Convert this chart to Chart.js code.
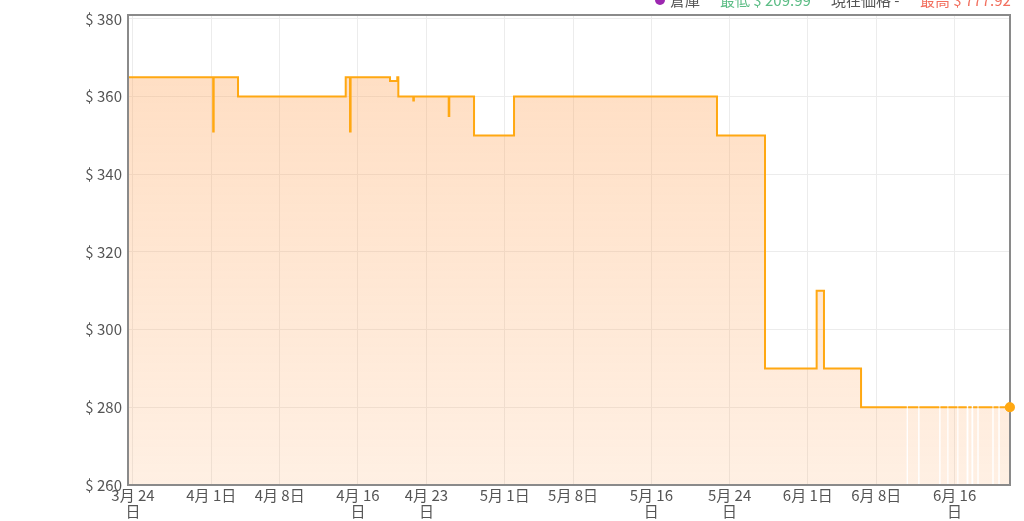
<!DOCTYPE html>
<html>
<head>
<meta charset="utf-8">
<script src="https://cdn.jsdelivr.net/npm/chart.js@4.4.1/dist/chart.umd.min.js"></script>
<style>
html,body{margin:0;padding:0;background:#fff;overflow:hidden}
#wrap{width:1024px;height:521px}
</style>
</head>
<body>
<div id="wrap"><canvas id="priceChart"></canvas></div>
<script>
// 価格の変化点（3月24日 = 0日目）
let changeDays = [-0.51, 8.2, 8.25, 10.74, 21.75, 22.19, 22.25, 26.28, 27.02, 27.13, 28.66, 28.72, 32.28, 32.34, 34.87, 38.96, 59.71, 64.62, 69.9, 70.65, 74.44, 89.67];
let prices     = [365,   351, 365,  360,   365,   351,   365,   364,   365,   360,   359,   360,   355,   360,   350,   360,   350,   290,   310,  290,   280,   280];
// データ欠損（最後の区間）
let gapStarts = [79.12, 80.3, 82.45, 83.28, 84.3, 85.25, 85.75, 86.35, 87.88, 88.5];
let gapEnds   = [79.22, 80.4, 82.55, 83.36, 84.38, 85.4,  85.9,  86.45, 87.98, 88.6];
let gapPrice = 280;
// 軸
let tickDays = [0, 8, 15, 23, 30, 38, 45, 53, 61, 69, 76, 84];
let tickLabels = [["3月 24","日"], "4月 1日", "4月 8日", ["4月 16","日"], ["4月 23","日"], "5月 1日", "5月 8日", ["5月 16","日"], ["5月 24","日"], "6月 1日", "6月 8日", ["6月 16","日"]];
let yTicks = [260, 280, 300, 320, 340, 360, 380];
// 上部の凡例
let headerTexts  = ["倉庫", "最低 $ 209.99", "現在価格 -", "最高 $ 777.92"];
let headerColors = ["#555", "#5dbd86", "#555", "#f26f5e"];

const FONT = "'Noto Sans CJK JP', 'Noto Sans', sans-serif";

// 点データを作る
let points = [];
for(let i=0;i<changeDays.length-1;i++) points.push({x:changeDays[i], y:prices[i]});
for(let i=0;i<gapStarts.length;i++){
  points.push({x:gapStarts[i], y:gapPrice});
  points.push({x:gapStarts[i]+0.001, y:null});
  points.push({x:gapEnds[i], y:gapPrice});
}
points.push({x:changeDays[changeDays.length-1], y:prices[prices.length-1]});
let lastIdx = points.length-1;

// 枠と上部テキスト
const framePlugin = {
  id:"frame",
  afterDatasetsDraw(chart){
    const {ctx, chartArea:a} = chart;
    ctx.save();
    ctx.strokeStyle = "#8a8a8a";
    ctx.lineWidth = 2;
    ctx.strokeRect(a.left, a.top, a.right-a.left, a.bottom-a.top);
    ctx.restore();
    // 最後の点は枠の上に
    let pt = chart.getDatasetMeta(0).data[lastIdx];
    if(pt) pt.draw(ctx, a);
  },
  afterDraw(chart){
    const ctx = chart.ctx;
    ctx.save();
    ctx.font = "15px " + FONT;
    ctx.textBaseline = "middle";
    ctx.fillStyle = "#9c27b0";
    ctx.beginPath(); ctx.arc(660, 0, 5, 0, Math.PI*2); ctx.fill();
    let xs = [670, 720, 831, 920];
    headerTexts.forEach((t,i)=>{
      ctx.fillStyle = headerColors[i];
      ctx.fillText(t, xs[i], 0);
    });
    ctx.restore();
  }
};

let ctx = document.getElementById("priceChart").getContext("2d");
new Chart(ctx,{
  type:"line",
  data:{
    datasets:[{
      data:points,
      stepped:true,
      borderColor:"#ffa812",
      borderWidth:2,
      fill:"start",
      backgroundColor:c=>{
        const a = c.chart.chartArea;
        if(!a) return "rgba(255,165,91,0.3)";
        const g = c.chart.ctx.createLinearGradient(0, a.top, 0, a.bottom);
        g.addColorStop(0, "rgba(255,165,91,0.39)");
        g.addColorStop(1, "rgba(255,165,91,0.17)");
        return g;
      },
      pointRadius:c=>c.dataIndex===lastIdx?4:0,
      pointBackgroundColor:"#ffa812",
      pointBorderColor:"#ffa812",
      pointHoverRadius:0
    }]
  },
  options:{
    responsive:true,
    maintainAspectRatio:false,
    animation:false,
    layout:{padding:{top:14, right:14, left:0, bottom:0}},
    plugins:{legend:{display:false}, tooltip:{enabled:false}},
    scales:{
      x:{
        type:"linear",
        min:-0.51, max:89.67,
        afterBuildTicks:s=>{ s.ticks = tickDays.map(v=>({value:v})); },
        afterFit:s=>{ s.height = 36; },
        ticks:{
          autoSkip:false, maxRotation:0, padding:2, color:"#555",
          font:{family:FONT, size:15, lineHeight:1.1},
          callback:(v,i)=>tickLabels[i]
        },
        grid:{color:"#ececec", drawTicks:false},
        border:{display:false}
      },
      y:{
        min:260, max:381,
        afterBuildTicks:s=>{ s.ticks = yTicks.map(v=>({value:v})); },
        afterFit:s=>{ s.width = 128; },
        ticks:{
          padding:6, color:"#555",
          font:{family:FONT, size:15},
          callback:v=>"$ " + v
        },
        grid:{color:"#ececec", drawTicks:false},
        border:{display:false}
      }
    }
  },
  plugins:[framePlugin]
});
</script>
</body>
</html>
